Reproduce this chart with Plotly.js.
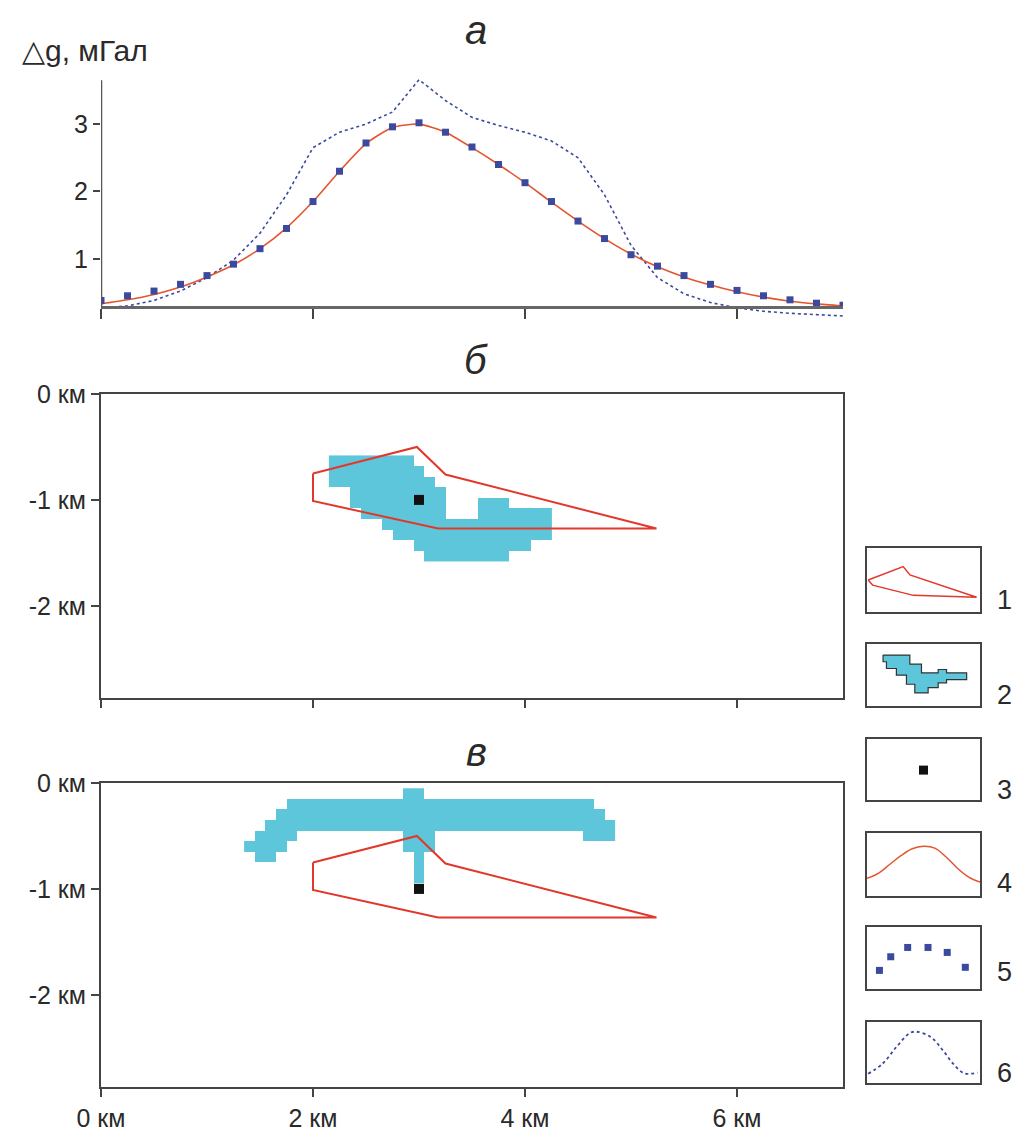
<!DOCTYPE html>
<html><head><meta charset="utf-8">
<script src="https://cdn.plot.ly/plotly-3.0.1.min.js"></script>
<style>html,body{margin:0;padding:0;background:#fff}#chart{width:1024px;height:1131px}</style>
</head><body><div id="chart"></div>
<script>
// ---------- panel а: gravity profiles ----------
const profileX  = [0,0.25,0.5,0.75,1,1.25,1.5,1.75,2,2.25,2.5,2.75,3,3.25,3.5,3.75,4,4.25,4.5,4.75,5,5.25,5.5,5.75,6,6.25,6.5,6.75,7];
const observedG = [0.38,0.45,0.52,0.62,0.75,0.92,1.15,1.45,1.85,2.30,2.72,2.96,3.02,2.88,2.66,2.40,2.13,1.85,1.56,1.30,1.06,0.89,0.75,0.62,0.53,0.45,0.39,0.34,0.31];
const modelG    = [0.33,0.39,0.47,0.58,0.73,0.91,1.15,1.46,1.85,2.30,2.71,2.95,3.00,2.88,2.65,2.40,2.13,1.84,1.56,1.30,1.07,0.88,0.73,0.61,0.51,0.43,0.37,0.33,0.30];
const initialG  = [0.27,0.30,0.38,0.52,0.72,0.98,1.38,1.95,2.65,2.88,3.00,3.18,3.66,3.35,3.10,2.98,2.88,2.75,2.50,1.95,1.20,0.72,0.48,0.35,0.27,0.22,0.19,0.17,0.15];
const gTicks = [1,2,3];
const kmTicks = [0,2,4,6];
const kmTickText = ['0 км','2 км','4 км','6 км'];
const depthTicks = [0,-1,-2];
const depthTickText = ['0 км','-1 км','-2 км'];

// ---------- panels б, в: model body, source, solutions ----------
const bodyX = [2.0,2.98,3.25,5.24,3.18,2.0,2.0];
const bodyY = [-0.75,-0.5,-0.76,-1.27,-1.27,-1.01,-0.75];
const sourceX = [3.0];
const sourceY = [-1.0];
const solutionB_y = [-0.63,-0.73,-0.83,-0.93,-1.03,-1.13,-1.23,-1.33,-1.43,-1.53];
const solutionB_runs = [
  [[2.2,2.9]],
  [[2.2,3.0]],
  [[2.2,3.1]],
  [[2.4,3.2]],
  [[2.4,3.2],[3.6,3.8]],
  [[2.5,3.2],[3.6,4.2]],
  [[2.7,4.2]],
  [[2.8,4.2]],
  [[3.0,4.0]],
  [[3.1,3.8]]
];
const solutionV_y = [-0.1,-0.2,-0.3,-0.4,-0.5,-0.6,-0.7,-0.8,-0.9];
const solutionV_runs = [
  [[2.9,3.0]],
  [[1.8,4.6]],
  [[1.7,4.7]],
  [[1.6,4.8]],
  [[1.5,1.8],[2.9,3.1],[4.6,4.8]],
  [[1.4,1.7],[2.9,3.1]],
  [[1.5,1.6],[3.0,3.0]],
  [[3.0,3.0]],
  [[3.0,3.0]]
];

// ---------- legend glyphs (box-relative 0..1) ----------
const leg1X = [0.01,0.32,0.38,0.97,0.41,0.05,0.01];
const leg1Y = [0.50,0.71,0.58,0.23,0.26,0.42,0.50];
const leg2X = [0.142,0.379,0.379,0.482,0.482,0.630,0.630,0.704,0.704,0.882,0.882,0.704,0.704,0.630,0.630,0.541,0.541,0.423,0.423,0.349,0.349,0.260,0.260,0.172,0.172,0.142,0.142];
const leg2Y = [0.822,0.822,0.676,0.676,0.535,0.535,0.589,0.589,0.535,0.535,0.427,0.427,0.373,0.373,0.297,0.297,0.211,0.211,0.351,0.351,0.497,0.497,0.605,0.605,0.714,0.714,0.822];
const leg3X = [0.5], leg3Y = [0.49];
const leg4X = [0,0.1,0.2,0.3,0.4,0.5,0.6,0.7,0.8,0.9,1.0];
const leg4Y = [0.28,0.36,0.50,0.64,0.75,0.79,0.76,0.62,0.44,0.30,0.22];
const leg5X = [0.11,0.21,0.36,0.54,0.71,0.87];
const leg5Y = [0.30,0.52,0.67,0.67,0.59,0.35];
const leg6X = [0.01,0.14,0.26,0.38,0.44,0.56,0.67,0.76,0.86,0.98];
const leg6Y = [0.15,0.32,0.59,0.82,0.84,0.76,0.54,0.32,0.16,0.17];
const legendLabels = ['1','2','3','4','5','6'];

// ---------- styling ----------
const W = 1024, H = 1131;
const px = x => x / W;
const py = y => 1 - y / H;
const RED = '#e2382c', CURVE = '#e4552f', BLUE = '#3b4a9e', CYAN = '#5ec6da', AX = '#444';
const FONT = 'Liberation Sans, Arial, sans-serif';

function grid(runs, rowsY) {
  let lo = Infinity, hi = -Infinity;
  runs.forEach(r => r.forEach(([a,b]) => { lo = Math.min(lo,a); hi = Math.max(hi,b); }));
  const n = Math.round((hi - lo) / 0.1) + 1;
  const xs = Array.from({length:n}, (_,i) => +(lo + 0.1*i).toFixed(2));
  const z = rowsY.map((y,r) => xs.map(x => runs[r].some(([a,b]) => x >= a-1e-6 && x <= b+1e-6) ? 1 : null));
  return {x: xs, y: rowsY, z};
}
function heat(g, xa, ya) {
  return {type:'heatmap', x:g.x, y:g.y, z:g.z, zmin:0, zmax:1, colorscale:[[0,CYAN],[1,CYAN]],
          showscale:false, hoverinfo:'skip', xaxis:xa, yaxis:ya};
}
const traces = [
  {x:profileX, y:initialG, mode:'lines', line:{color:BLUE, dash:'dot', width:1.6}, xaxis:'x', yaxis:'y'},
  {x:profileX, y:modelG, mode:'lines', line:{color:CURVE, width:1.6, shape:'spline', smoothing:0.6}, xaxis:'x', yaxis:'y'},
  {x:profileX, y:observedG, mode:'markers', marker:{symbol:'square', size:7, color:BLUE}, xaxis:'x', yaxis:'y'},
  heat(grid(solutionB_runs, solutionB_y), 'x2', 'y2'),
  {x:bodyX, y:bodyY, mode:'lines', line:{color:RED, width:2}, xaxis:'x2', yaxis:'y2'},
  {x:sourceX, y:sourceY, mode:'markers', marker:{symbol:'square', size:10, color:'#111'}, xaxis:'x2', yaxis:'y2'},
  heat(grid(solutionV_runs, solutionV_y), 'x3', 'y3'),
  {x:bodyX, y:bodyY, mode:'lines', line:{color:RED, width:2}, xaxis:'x3', yaxis:'y3'},
  {x:sourceX, y:sourceY, mode:'markers', marker:{symbol:'square', size:10, color:'#111'}, xaxis:'x3', yaxis:'y3'},
  {x:leg1X, y:leg1Y, mode:'lines', line:{color:RED, width:1.5}, xaxis:'x4', yaxis:'y4'},
  {x:leg2X, y:leg2Y, mode:'lines', fill:'toself', fillcolor:CYAN, line:{color:'#333', width:1.2}, xaxis:'x5', yaxis:'y5'},
  {x:leg3X, y:leg3Y, mode:'markers', marker:{symbol:'square', size:9, color:'#111'}, xaxis:'x6', yaxis:'y6'},
  {x:leg4X, y:leg4Y, mode:'lines', line:{color:CURVE, width:1.5, shape:'spline'}, xaxis:'x7', yaxis:'y7'},
  {x:leg5X, y:leg5Y, mode:'markers', marker:{symbol:'square', size:7, color:BLUE}, xaxis:'x8', yaxis:'y8'},
  {x:leg6X, y:leg6Y, mode:'lines', line:{color:BLUE, dash:'dot', width:1.8, shape:'spline'}, xaxis:'x9', yaxis:'y9'}
];
traces.forEach(t => { t.showlegend = false; if (!t.hoverinfo) t.hoverinfo = 'skip'; });

const tickFont = {family:FONT, size:25, color:'#2a2a2a'};
const xDom = [px(101), px(843)];
const ann = (text, x, y, size, extra) => Object.assign({text, xref:'paper', yref:'paper', x:px(x), y:py(y),
  xanchor:'center', yanchor:'middle', showarrow:false, font:{family:FONT, size, color:'#2a2a2a'}}, extra || {});
const layout = {
  width:W, height:H, margin:{l:0,r:0,t:0,b:0}, paper_bgcolor:'#fff', plot_bgcolor:'rgba(0,0,0,0)',
  showlegend:false, font:{family:FONT},
  xaxis:{domain:xDom, range:[0,7], anchor:'free', position:py(307), showline:true, linecolor:'#666', linewidth:3,
         ticks:'outside', ticklen:10, tickwidth:2, tickcolor:AX, tickvals:kmTicks, showticklabels:false,
         showgrid:false, zeroline:false},
  yaxis:{domain:[py(318), py(77)], range:[0.12,3.7], anchor:'x', showline:false, ticks:'outside', ticklen:7,
         tickwidth:2, tickcolor:AX, tickvals:gTicks, ticktext:gTicks.map(String), tickfont:tickFont,
         showgrid:false, zeroline:false},
  xaxis2:{domain:xDom, range:[0,7], anchor:'y2', showline:true, mirror:true, linecolor:AX, linewidth:2,
          ticks:'outside', ticklen:8, tickwidth:2, tickcolor:AX, tickvals:kmTicks, showticklabels:false,
          showgrid:false, zeroline:false},
  yaxis2:{domain:[py(698), py(394)], range:[-2.87,0], anchor:'x2', showline:true, mirror:true, linecolor:AX, linewidth:2,
          ticks:'outside', ticklen:8, tickwidth:2, tickcolor:AX, tickvals:depthTicks, ticktext:depthTickText,
          tickfont:tickFont, showgrid:false, zeroline:false},
  xaxis3:{domain:xDom, range:[0,7], anchor:'y3', showline:true, mirror:true, linecolor:AX, linewidth:2,
          ticks:'outside', ticklen:8, tickwidth:2, tickcolor:AX, tickvals:kmTicks, ticktext:kmTickText,
          tickfont:tickFont, showgrid:false, zeroline:false},
  yaxis3:{domain:[py(1087), py(783)], range:[-2.87,0], anchor:'x3', showline:true, mirror:true, linecolor:AX, linewidth:2,
          ticks:'outside', ticklen:8, tickwidth:2, tickcolor:AX, tickvals:depthTicks, ticktext:depthTickText,
          tickfont:tickFont, showgrid:false, zeroline:false},
  shapes:[{type:'line', xref:'x', yref:'y', x0:0, x1:0, y0:0.28, y1:3.65, line:{color:'#555', width:2.5}}],
  annotations:[
    ann('<i>а</i>', 476, 30, 40),
    ann('<i>б</i>', 476, 360, 40),
    ann('<i>в</i>', 476, 752, 40),
    ann('△g, мГал', 20, 50, 30, {xanchor:'left'})
  ]
};
const boxes = [[548,612],[644,706],[739,800],[833,896],[927,989],[1022,1083]];
const labelY = [600,695,790,883,972,1073];
boxes.forEach((b,i) => {
  const n = i + 4;
  layout['xaxis'+n] = {domain:[px(867), px(980)], range:[0,1], anchor:'y'+n, showline:true, mirror:true,
    linecolor:AX, linewidth:2, showticklabels:false, ticks:'', showgrid:false, zeroline:false};
  layout['yaxis'+n] = {domain:[py(b[1]), py(b[0])], range:[0,1], anchor:'x'+n, showline:true, mirror:true,
    linecolor:AX, linewidth:2, showticklabels:false, ticks:'', showgrid:false, zeroline:false};
  layout.annotations.push(ann(legendLabels[i], 1004, labelY[i], 27));
});
Plotly.newPlot('chart', traces, layout, {displayModeBar:false, staticPlot:true});
</script></body></html>
